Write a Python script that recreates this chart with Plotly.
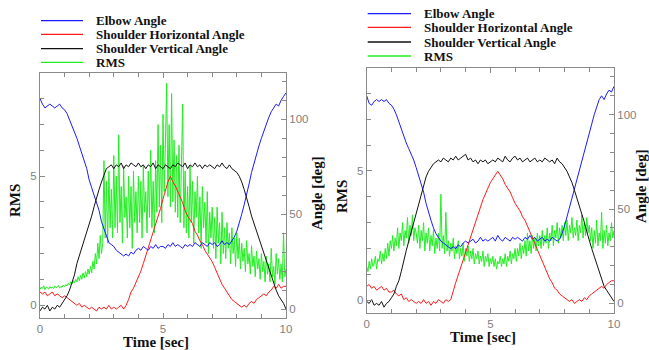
import plotly.graph_objects as go

W, H = 649, 350

# ---------------- data ----------------
time_angle = [i / 10 for i in range(101)]   # 0.0 .. 10.0 s
time_rms = [i / 20 for i in range(201)]     # 0.00 .. 10.00 s

# Left panel
elbow_left = [111, 108, 106, 107, 108, 107, 106, 107, 108, 106, 105,
              103, 100, 96, 93, 90, 86, 82, 79, 74, 68,
              64, 61, 57, 52, 46, 42, 38, 35, 34, 33,
              31, 30, 29, 28, 29, 28, 30, 29, 31, 32,
              31, 33, 32, 31, 33, 32, 34, 32, 33, 33,
              32, 34, 33, 35, 33, 34, 33, 32, 34, 33,
              34, 33, 35, 34, 33, 35, 34, 33, 35, 34,
              35, 33, 34, 36, 34, 35, 34, 36, 38, 41,
              45, 50, 55, 60, 66, 72, 77, 82, 86, 90,
              94, 98, 101, 104, 106, 108, 107, 110, 112, 114]
shoulder_h_left = [9, 8, 9, 7, 8, 9, 7, 8, 7, 6, 7,
                   6, 5, 4, 3, 2, 3, 1, 2, 1, 0,
                   1, 0, -1, 1, 0, 1, 0, 2, 0, 1,
                   0, 1, 2, 0, 2, 5, 9, 11, 14, 17,
                   20, 24, 28, 32, 36, 40, 44, 49, 53, 58,
                   63, 67, 70, 67, 65, 62, 59, 56, 52, 49,
                   47, 45, 41, 39, 36, 34, 31, 29, 27, 25,
                   22, 19, 16, 13, 11, 9, 7, 5, 4, 3,
                   2, 1, 2, 1, 3, 4, 3, 5, 6, 7,
                   8, 7, 9, 10, 12, 11, 13, 11, 12, 12]
shoulder_v_left = [-1, 1, 0, 2, -1, 1, 0, 2, 1, 3, 5,
                   7, 10, 14, 18, 24, 28, 32, 36, 40, 44,
                   49, 54, 59, 63, 67, 71, 74, 75, 76, 74,
                   76, 75, 77, 74, 76, 75, 77, 76, 75, 77,
                   75, 76, 74, 76, 75, 77, 74, 76, 75, 74,
                   76, 75, 74, 76, 75, 77, 76, 75, 77, 74,
                   76, 75, 77, 75, 76, 74, 76, 75, 76, 75,
                   74, 76, 75, 77, 75, 74, 76, 74, 73, 72,
                   70, 67, 63, 59, 54, 49, 45, 41, 37, 33,
                   29, 25, 21, 18, 14, 10, 7, 5, 3, 0]
rms_left = [0.6, 0.7, 0.65, 0.75, 0.6, 0.7, 0.68, 0.62, 0.72, 0.66, 0.7,
            0.64, 0.74, 0.68, 0.7, 0.76, 0.66, 0.72, 0.7, 0.78, 0.72,
            0.8, 0.74, 0.85, 0.78, 0.9, 0.82, 0.95, 0.86, 1.0, 0.9,
            1.1, 0.95, 1.15, 1.0, 1.25, 1.05, 1.3, 1.1, 1.4, 1.2,
            1.5, 1.25, 1.7, 1.4, 2.0, 1.6, 2.4, 1.8, 2.7, 2.0,
            2.4, 5.6, 2.6, 4.8, 2.4, 5.2, 3.0, 4.5, 2.6, 5.8,
            3.0, 5.0, 2.8, 6.6, 3.2, 4.6, 2.4, 5.4, 3.4, 4.2,
            2.6, 5.0, 3.0, 4.6, 2.2, 5.2, 3.2, 4.4, 2.8, 5.0,
            3.2, 4.8, 2.6, 5.4, 3.6, 4.4, 2.8, 5.2, 3.4, 6.0,
            3.0, 4.8, 2.8, 5.6, 3.6, 7.0, 3.8, 6.2, 3.2, 7.4,
            4.4, 6.4, 8.6, 4.2, 7.0, 3.8, 8.2, 4.0, 6.4, 3.6,
            5.8, 3.4, 6.2, 3.2, 5.4, 7.8, 3.0, 5.2, 2.8, 4.6,
            2.6, 5.4, 3.2, 4.8, 2.4, 4.4, 3.4, 5.0, 2.8, 4.2,
            2.2, 4.6, 3.0, 4.0, 2.4, 4.4, 2.0, 3.6, 2.6, 3.8,
            2.2, 3.4, 1.8, 3.8, 2.4, 3.2, 1.6, 3.6, 2.0, 3.0,
            1.8, 3.2, 2.2, 2.8, 1.6, 3.0, 2.0, 2.6, 1.5, 2.8,
            1.8, 2.6, 1.4, 2.4, 1.7, 2.2, 1.3, 2.5, 1.6, 2.0,
            1.2, 2.3, 1.5, 1.9, 1.1, 2.1, 1.4, 1.8, 1.0, 2.0,
            1.3, 1.7, 0.9, 1.9, 1.2, 1.6, 0.9, 2.2, 1.1, 1.5,
            0.8, 2.0, 1.2, 1.8, 1.0, 1.6, 0.9, 2.8, 1.1, 1.4]

# Right panel
elbow_right = [110, 106, 105, 107, 108, 107, 108, 107, 108, 106, 105,
               103, 100, 96, 92, 88, 85, 82, 79, 76, 72,
               68, 64, 59, 53, 48, 44, 40, 37, 35, 33,
               32, 31, 30, 29, 30, 29, 31, 30, 32, 33,
               32, 33, 34, 32, 33, 35, 33, 34, 33, 34,
               35, 33, 36, 34, 33, 35, 34, 33, 35, 34,
               35, 34, 33, 35, 34, 36, 34, 35, 33, 34,
               35, 33, 34, 33, 35, 34, 33, 34, 37, 41,
               46, 51, 55, 60, 65, 70, 75, 80, 85, 90,
               95, 100, 104, 108, 110, 108, 111, 113, 112, 115]
shoulder_h_right = [9, 10, 8, 9, 7, 8, 9, 7, 8, 6, 6,
                    7, 5, 4, 5, 2, 3, 1, 2, 1, 0,
                    1, 0, 2, 0, 1, -1, 1, 0, 2, 1,
                    0, 2, 1, 2, 7, 11, 15, 19, 23, 28,
                    32, 36, 40, 44, 48, 52, 55, 58, 61, 64,
                    66, 68, 70, 68, 66, 63, 61, 59, 56, 53,
                    51, 49, 46, 44, 41, 38, 35, 32, 28, 25,
                    22, 19, 16, 13, 11, 8, 7, 5, 4, 3,
                    2, 1, 2, 0, 1, 2, 1, 3, 2, 4,
                    5, 6, 7, 8, 9, 8, 10, 11, 12, 12]
shoulder_v_right = [1, 0, 2, -1, 0, -1, 1, -2, 0, 1, 3,
                    5, 9, 12, 17, 23, 28, 33, 38, 43, 48,
                    53, 58, 63, 67, 70, 72, 74, 75, 76, 75,
                    77, 76, 75, 77, 76, 78, 76, 77, 78, 79,
                    76, 77, 75, 76, 74, 76, 75, 76, 74, 75,
                    76, 75, 77, 76, 75, 78, 76, 75, 77, 78,
                    76, 77, 75, 76, 77, 75, 76, 77, 75, 76,
                    75, 77, 76, 75, 76, 74, 77, 75, 74, 72,
                    70, 67, 64, 60, 56, 52, 47, 43, 38, 33,
                    29, 25, 21, 17, 13, 9, 7, 5, 3, 1]
rms_right = [1.3, 1.1, 1.5, 1.2, 1.6, 1.3, 1.4, 1.7, 1.2, 1.6, 1.5,
             1.9, 1.4, 1.8, 1.5, 2.0, 1.6, 2.2, 1.7, 2.3, 2.0,
             2.5, 1.9, 2.4, 2.1, 2.8, 2.0, 2.6, 2.3, 3.0, 2.1,
             2.7, 2.4, 3.2, 2.2, 2.9, 2.5, 3.3, 2.3, 2.8, 2.6,
             2.2, 2.9, 2.0, 2.7, 2.3, 3.0, 1.9, 2.6, 2.2, 2.8,
             1.9, 2.5, 2.1, 2.7, 1.8, 2.4, 2.0, 2.6, 1.9, 4.1,
             2.0, 2.5, 1.8, 3.4, 1.9, 2.3, 1.7, 2.2, 1.9, 2.4,
             1.6, 2.1, 1.8, 2.3, 1.6, 2.0, 1.7, 2.2, 1.5, 2.0,
             1.7, 2.1, 1.5, 1.9, 1.6, 2.0, 1.4, 1.8, 1.6, 1.9,
             1.4, 1.7, 1.5, 1.9, 1.3, 1.7, 1.5, 1.8, 1.3, 1.6,
             1.4, 1.7, 1.3, 1.6, 1.2, 1.5, 1.4, 1.7, 1.3, 1.6,
             1.4, 1.8, 1.3, 1.7, 1.5, 1.9, 1.4, 1.8, 1.6, 2.0,
             1.5, 2.0, 1.7, 2.2, 1.6, 2.1, 1.8, 2.3, 1.7, 2.6,
             1.9, 2.3, 1.8, 2.5, 2.0, 2.4, 1.9, 2.6, 2.1, 2.5,
             2.0, 2.7, 2.1, 2.5, 2.2, 2.8, 2.0, 2.6, 2.3, 2.9,
             2.1, 2.7, 2.4, 3.0, 2.2, 2.8, 2.4, 2.9, 2.3, 3.0,
             2.5, 3.1, 2.3, 2.9, 2.6, 3.2, 2.4, 2.8, 2.5, 3.1,
             2.3, 2.9, 2.6, 3.3, 2.4, 3.0, 2.5, 3.2, 2.6, 2.9,
             2.3, 2.8, 2.0, 2.7, 2.2, 3.1, 2.1, 2.6, 2.3, 3.4,
             2.0, 2.7, 2.2, 2.9, 2.1, 2.6, 2.3, 3.0, 2.4, 2.7]

series_names = ["Elbow Angle", "Shoulder Horizontal Angle",
                "Shoulder Vertical Angle", "RMS"]
series_colors = ["#1a1aff", "#ff1a1a", "#111111", "#22ee22"]

# ---------------- figure ----------------
def X(px):
    return px / W

def Y(py):
    return 1 - py / H

fig = go.Figure()

panels = [
    dict(x="x", y_rms="y", y_ang="y2",
         ang=[elbow_left, shoulder_h_left, shoulder_v_left], rms=rms_left),
    dict(x="x2", y_rms="y3", y_ang="y4",
         ang=[elbow_right, shoulder_h_right, shoulder_v_right], rms=rms_right),
]

for p in panels:
    fig.add_trace(go.Scatter(x=time_rms, y=p["rms"], mode="lines",
                             name=series_names[3],
                             line=dict(color=series_colors[3], width=1),
                             xaxis=p["x"], yaxis=p["y_rms"], showlegend=False))
    for k in range(3):
        fig.add_trace(go.Scatter(x=time_angle, y=p["ang"][k], mode="lines",
                                 name=series_names[k],
                                 line=dict(color=series_colors[k], width=1),
                                 xaxis=p["x"], yaxis=p["y_ang"], showlegend=False))

frame = "#8a8a8a"
tickfont = dict(family="Liberation Sans", size=11.5, color="#808080")

def xax(domain, anchor):
    return dict(domain=domain, anchor=anchor, range=[0, 10], automargin=False,
                tickvals=[0, 5, 10], ticks="inside", ticklen=5, tickcolor=frame,
                minor=dict(dtick=1, ticks="inside", ticklen=4, tickcolor=frame),
                showline=True, linecolor=frame, linewidth=1, mirror="ticks",
                showgrid=False, zeroline=False, tickfont=tickfont, ticklabelstandoff=0)

def yrms(domain, anchor):
    return dict(domain=domain, anchor=anchor, range=[-0.5, 9], automargin=False,
                tickvals=[0, 5], ticks="inside", ticklen=5, tickcolor=frame,
                minor=dict(dtick=1, ticks="inside", ticklen=4, tickcolor=frame),
                showline=True, linecolor=frame, linewidth=1,
                showgrid=False, zeroline=False, tickfont=tickfont)

def yang(overlay, anchor, rng):
    return dict(overlaying=overlay, anchor=anchor, side="right", range=rng,
                automargin=False,
                tickvals=[0, 50, 100], ticks="inside", ticklen=5, tickcolor=frame,
                minor=dict(dtick=10, ticks="inside", ticklen=4, tickcolor=frame),
                showline=True, linecolor=frame, linewidth=1,
                showgrid=False, zeroline=False, tickfont=tickfont)

left_x = [X(40), X(286)]
left_y = [Y(318), Y(73)]
right_x = [X(366.7), X(614)]
right_y = [Y(313), Y(67.7)]

fig.update_layout(
    width=W, height=H,
    margin=dict(l=0, r=0, t=0, b=0, autoexpand=False),
    paper_bgcolor="white", plot_bgcolor="white",
    showlegend=False,
    xaxis=xax(left_x, "y"),
    yaxis=yrms(left_y, "x"),
    yaxis2=yang("y", "x", [-4.7, 124.4]),
    xaxis2=xax(right_x, "y3"),
    yaxis3=yrms(right_y, "x2"),
    yaxis4=yang("y3", "x2", [-5.1, 124.9]),
)

title_font = dict(family="Liberation Serif", size=15, color="#111111", weight="bold")
legend_font = dict(family="Liberation Serif", size=13, color="#111111", weight="bold")

annotations = []
def label(text, px, py, angle=0, font=title_font, xanchor="center"):
    annotations.append(dict(text=text, x=X(px), y=Y(py), xref="paper", yref="paper",
                            showarrow=False, textangle=angle, font=font,
                            xanchor=xanchor, yanchor="middle"))

label("RMS", 15, 201, -90)
label("Angle [deg]", 317, 193, -90)
label("Time [sec]", 156, 342)
label("RMS", 342, 197, -90)
label("Angle [deg]", 641, 186, -90)
label("Time [sec]", 483, 337)

shapes = []
legend_specs = [
    (41, 83, 94, [20.7, 34.3, 48.7, 62.3]),
    (367.7, 411, 421.7, [13.7, 27.3, 42, 56]),
]
for x0, x1, xt, rows in legend_specs:
    for k, ry in enumerate(rows):
        shapes.append(dict(type="line", xref="paper", yref="paper",
                           x0=X(x0), x1=X(x1), y0=Y(ry), y1=Y(ry),
                           line=dict(color=series_colors[k], width=1.3)))
        label(series_names[k], xt, ry, 0, legend_font, "left")

fig.update_layout(annotations=annotations, shapes=shapes)

fig.write_html("out.html",
               config={"displayModeBar": False},
               post_script="document.body.style.margin='0';document.body.style.overflow='hidden';")
